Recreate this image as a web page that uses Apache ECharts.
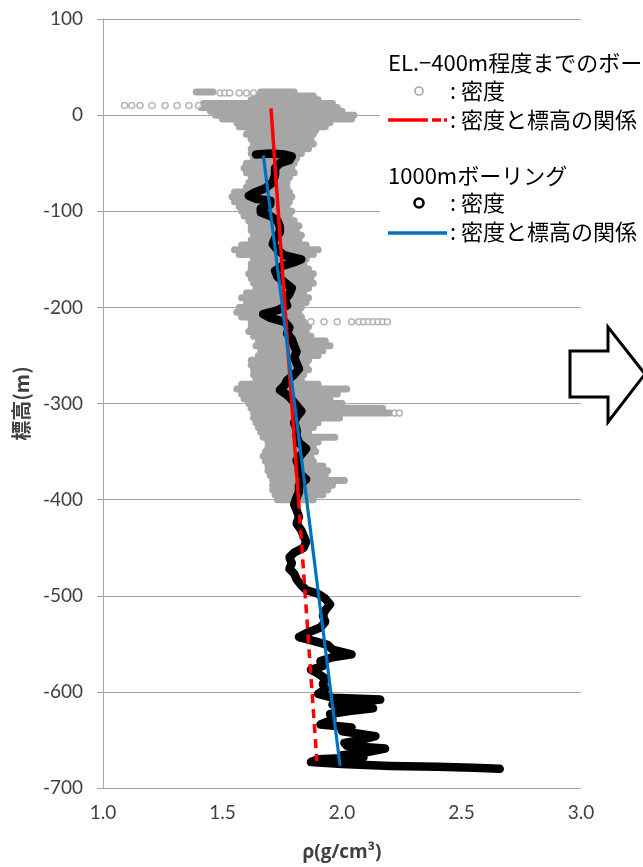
<!DOCTYPE html>
<html><head><meta charset="utf-8">
<script src="https://cdn.jsdelivr.net/npm/echarts@6/dist/echarts.min.js"></script>
<style>html,body{margin:0;padding:0;background:#fff}#c{width:643px;height:867px}</style>
</head><body><div id="c"></div>
<script>
// gray band (EL.-400m boreholes): [elevation, leftDensity, rightDensity]
const grayBand = [
 [24,1.39,1.46],[24,1.66,1.80],[20,1.64,1.88],[16,1.62,1.90],[12,1.42,1.96],[8,1.41,1.98],
 [4,1.45,2.00],[0,1.47,2.05],[-4,1.50,2.04],[-8,1.56,1.95],[-12,1.57,1.93],[-16,1.61,1.89],
 [-20,1.60,1.88],[-25,1.62,1.87],[-30,1.63,1.88],[-35,1.62,1.86],[-40,1.62,1.83],[-45,1.63,1.81],
 [-50,1.60,1.80],[-55,1.59,1.79],[-60,1.60,1.80],[-65,1.62,1.78],[-70,1.61,1.77],[-75,1.60,1.77],
 [-80,1.55,1.78],[-85,1.54,1.79],[-90,1.55,1.78],[-95,1.57,1.77],[-100,1.58,1.79],[-105,1.59,1.78],
 [-110,1.61,1.80],[-115,1.62,1.82],[-120,1.62,1.81],[-125,1.63,1.83],[-130,1.62,1.82],[-135,1.58,1.85],
 [-140,1.55,1.90],[-145,1.57,1.88],[-150,1.63,1.85],[-155,1.62,1.84],[-160,1.62,1.86],[-165,1.61,1.88],
 [-170,1.62,1.87],[-175,1.63,1.88],[-180,1.64,1.86],[-185,1.60,1.84],[-190,1.58,1.86],[-195,1.60,1.85],
 [-200,1.57,1.83],[-205,1.56,1.82],[-210,1.58,1.83],[-215,1.62,1.84],[-220,1.62,1.86],[-225,1.61,1.85],
 [-230,1.63,1.87],[-235,1.65,1.93],[-240,1.64,1.95],[-245,1.66,1.92],[-250,1.65,1.90],[-255,1.62,1.86],
 [-260,1.62,1.85],[-265,1.63,1.86],[-270,1.63,1.84],[-275,1.64,1.83],[-280,1.58,1.90],[-285,1.56,2.02],
 [-290,1.58,1.98],[-295,1.59,1.95],[-300,1.61,2.00],[-305,1.62,2.17],[-310,1.63,2.20],[-315,1.63,1.99],
 [-320,1.64,1.90],[-325,1.65,1.88],[-330,1.66,1.86],[-335,1.67,1.97],[-340,1.69,1.90],[-345,1.69,1.88],
 [-350,1.68,1.89],[-355,1.67,1.87],[-360,1.68,1.88],[-365,1.69,1.92],[-370,1.69,1.94],[-375,1.70,1.93],
 [-380,1.71,2.01],[-385,1.71,1.96],[-390,1.71,1.94],[-395,1.72,1.92],[-400,1.73,1.88]
];
// isolated gray open circles: [density, elevation]
const grayOpen = [
 [1.09,10],[1.12,10],[1.155,10],[1.205,10],[1.26,10],[1.31,10],[1.36,10],[1.40,10],
 [1.49,23],[1.51,23],[1.53,23],[1.57,23],[1.60,23],[1.63,23],
 [1.87,-215],[1.925,-215],[1.98,-215],[2.04,-215],[2.07,-215],[2.09,-215],[2.11,-215],[2.13,-215],[2.15,-215],[2.17,-215],[2.19,-215],
 [2.22,-310],[2.24,-310]
];
// 1000m boring density trace: [density, elevation]
const blackTrace = [
 [1.64,-41],[1.70,-40],[1.76,-41],[1.79,-43],[1.78,-47],[1.74,-50],[1.72,-55],[1.72,-62],[1.71,-70],[1.68,-76],
 [1.63,-81],[1.61,-84],[1.64,-87],[1.70,-89],[1.70,-93],[1.66,-97],[1.66,-101],[1.70,-105],[1.73,-110],[1.74,-116],
 [1.74,-122],[1.72,-128],[1.71,-134],[1.73,-140],[1.76,-146],[1.83,-150],[1.80,-153],[1.75,-157],[1.72,-162],[1.73,-168],
 [1.76,-174],[1.79,-180],[1.78,-186],[1.76,-192],[1.77,-198],[1.73,-203],[1.67,-207],[1.70,-211],[1.76,-215],[1.78,-221],
 [1.77,-227],[1.79,-233],[1.80,-240],[1.81,-246],[1.80,-252],[1.81,-258],[1.82,-264],[1.80,-270],[1.77,-276],[1.76,-281],
 [1.74,-286],[1.77,-291],[1.79,-296],[1.81,-302],[1.83,-308],[1.81,-314],[1.80,-320],[1.81,-327],[1.81,-334],[1.82,-341],
 [1.85,-347],[1.83,-353],[1.81,-359],[1.82,-366],[1.82,-372],[1.85,-379],[1.82,-385],[1.82,-392],[1.81,-398],[1.80,-405],
 [1.81,-411],[1.82,-418],[1.81,-425],[1.83,-432],[1.84,-438],[1.85,-444],[1.84,-450],[1.80,-455],[1.78,-460],[1.79,-466],
 [1.78,-472],[1.80,-477],[1.81,-483],[1.83,-489],[1.85,-494],[1.90,-498],[1.93,-503],[1.95,-509],[1.93,-515],[1.92,-521],
 [1.93,-527],[1.91,-533],[1.85,-539],[1.82,-543],[1.88,-547],[1.94,-551],[1.96,-556],[2.04,-561],[1.96,-564],[1.91,-568],
 [1.92,-573],[1.87,-577],[1.90,-581],[1.93,-586],[1.92,-592],[1.93,-597],[1.90,-602],[1.96,-606],[2.16,-608],[2.05,-611],
 [1.96,-613],[2.13,-617],[2.03,-620],[1.95,-623],[1.96,-629],[1.91,-634],[2.04,-637],[2.00,-641],[2.14,-646],[2.08,-650],
 [2.01,-653],[2.02,-656],[2.18,-659],[2.10,-663],[2.00,-666],[2.09,-668],[1.90,-670],[1.87,-673],[2.00,-675],[2.20,-677],
 [2.40,-678],[2.55,-679],[2.66,-680]
];
// fitted density-elevation relations: [density, elevation]
const redFit = [[1.703,7],[1.818,-400],[1.895,-672]];
const blueFit = [[1.671,-42],[1.992,-677]];
// legend texts
const legTitle1 = 'EL.−400m程度までのボー';
const legTitle2 = '1000mボーリング';
const legDensity = ': 密度';
const legRelation = ': 密度と標高の関係';

const chart = echarts.init(document.getElementById('c'), null, {renderer:'canvas'});
const axisGray = '#a6a6a6';
const labelColor = '#404040';
const tickFont = 'Lato';
const jpFont = 'Noto Sans CJK JP';
chart.setOption({
  animation:false,
  backgroundColor:'#fff',
  grid:{left:103,right:62,top:19,bottom:75,containLabel:false},
  xAxis:{
    type:'value',min:1,max:3,interval:0.5,
    axisLine:{show:true,lineStyle:{color:axisGray,width:1}},
    axisTick:{show:true,inside:false,length:6,lineStyle:{color:axisGray}},
    splitLine:{show:false},
    axisLabel:{formatter:v=>v.toFixed(1),fontFamily:tickFont,fontSize:19,color:labelColor,margin:15},
    name:'ρ(g/cm³)',nameLocation:'middle',nameGap:55,
    nameTextStyle:{fontFamily:'Open Sans',fontSize:19,fontWeight:'bold',color:labelColor}
  },
  yAxis:{
    type:'value',min:-700,max:100,interval:100,
    axisLine:{show:true,lineStyle:{color:axisGray,width:1}},
    axisTick:{show:true,inside:false,length:6,lineStyle:{color:axisGray}},
    splitLine:{show:true,lineStyle:{color:axisGray,width:1}},
    axisLabel:{fontFamily:tickFont,fontSize:19,color:labelColor,margin:20},
    name:'標高(m)',nameLocation:'middle',nameRotate:90,nameGap:72,
    nameTextStyle:{fontFamily:jpFont,fontSize:20,fontWeight:'bold',color:labelColor}
  },
  series:[
    {
      type:'custom',data:grayBand,encode:{x:[1,2],y:0},z:2,
      renderItem:function(params,api){
        const y=api.value(0),xl=api.value(1),xr=api.value(2);
        const p1=api.coord([xl,y]),p2=api.coord([xr,y]);
        return {type:'line',shape:{x1:p1[0],y1:p1[1],x2:p2[0],y2:p2[1]},
          style:{stroke:'#a6a6a6',lineWidth:7,lineCap:'round'}};
      }
    },
    {
      type:'scatter',data:grayOpen,symbol:'circle',symbolSize:6,z:3,
      itemStyle:{color:'#ffffff',borderColor:'#a6a6a6',borderWidth:1.6}
    },
    {
      type:'line',data:blackTrace,symbol:'none',z:4,
      lineStyle:{color:'#000',width:8.5,cap:'round',join:'round'}
    },
    {
      type:'line',data:redFit.slice(0,2),symbol:'none',z:5,
      lineStyle:{color:'#ff0000',width:3.5}
    },
    {
      type:'line',data:redFit.slice(1,3),symbol:'none',z:5,
      lineStyle:{color:'#ff0000',width:3.5,type:[9,6]}
    },
    {
      type:'line',data:blueFit,symbol:'none',z:6,
      lineStyle:{color:'#0070c0',width:3.2}
    }
  ],
  graphic:[
    {type:'rect',z:100,shape:{x:380,y:42,width:270,height:200},style:{fill:'#ffffff'}},
    {type:'text',z:101,x:388,y:63,style:{text:legTitle1,fontFamily:jpFont,fontSize:22,fill:'#000',verticalAlign:'middle'}},
    {type:'circle',z:101,shape:{cx:419,cy:91,r:4},style:{fill:'#fff',stroke:'#a6a6a6',lineWidth:1.6}},
    {type:'text',z:101,x:450,y:91,style:{text:legDensity,fontFamily:jpFont,fontSize:22,fill:'#000',verticalAlign:'middle'}},
    {type:'line',z:101,shape:{x1:388,y1:120,x2:428,y2:120},style:{stroke:'#ff0000',lineWidth:3.5}},
    {type:'line',z:101,shape:{x1:432,y1:120,x2:441,y2:120},style:{stroke:'#ff0000',lineWidth:3.5}},
    {type:'line',z:101,shape:{x1:444,y1:120,x2:447,y2:120},style:{stroke:'#ff0000',lineWidth:3.5}},
    {type:'text',z:101,x:450,y:120,style:{text:legRelation,fontFamily:jpFont,fontSize:22,fill:'#000',verticalAlign:'middle'}},
    {type:'text',z:101,x:388,y:176,style:{text:legTitle2,fontFamily:jpFont,fontSize:22,fill:'#000',verticalAlign:'middle'}},
    {type:'circle',z:101,shape:{cx:419,cy:203,r:4.5},style:{fill:'#fff',stroke:'#000',lineWidth:2.6}},
    {type:'text',z:101,x:450,y:203,style:{text:legDensity,fontFamily:jpFont,fontSize:22,fill:'#000',verticalAlign:'middle'}},
    {type:'line',z:101,shape:{x1:388,y1:233,x2:447,y2:233},style:{stroke:'#0070c0',lineWidth:3.5}},
    {type:'text',z:101,x:450,y:232,style:{text:legRelation,fontFamily:jpFont,fontSize:22,fill:'#000',verticalAlign:'middle'}},
    {type:'polygon',z:101,shape:{points:[[570,351],[608,351],[608,327],[645,374],[608,422],[608,397],[570,397]]},
      style:{fill:'#fff',stroke:'#000',lineWidth:3,lineJoin:'miter'}}
  ]
});
</script></body></html>
